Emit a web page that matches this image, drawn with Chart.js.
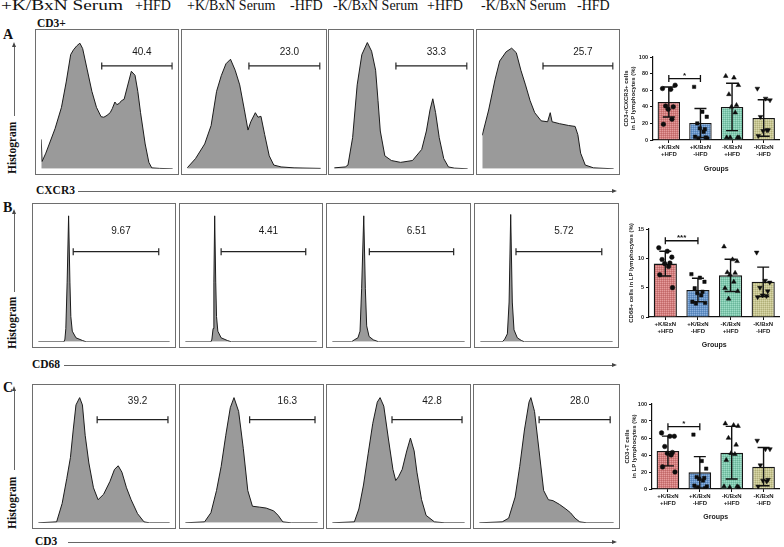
<!DOCTYPE html>
<html>
<head>
<meta charset="utf-8">
<script src="https://cdn.jsdelivr.net/npm/chart.js@4.4.0/dist/chart.umd.min.js"></script>
<style>
  body { margin: 0; background: #fff; width: 784px; height: 547px; position: relative; overflow: hidden; font-family: "Liberation Serif", serif; color: #111; }
  .t { position: absolute; white-space: pre; line-height: 1; }
  .hdr { font-size: 14px; }
  .lab { font-size: 11.5px; font-weight: bold; }
  .big { font-size: 14px; font-weight: bold; }
  .rot { transform: rotate(-90deg); transform-origin: 0 0; }
  .box { position: absolute; border: 1px solid #6e6e6e; box-sizing: border-box; }
  .box canvas { display: block; }
  .hl { position: absolute; height: 0; border-top: 1px solid #666; }
  .vl { position: absolute; width: 0; border-left: 1px solid #666; }
  .ar { position: absolute; width: 0; height: 0; }
  canvas.bar { position: absolute; }
</style>
</head>
<body>
<script>
// ---- flow histograms: [x, y] pairs, x = channel (0-100), y = % of max count
const HIST_A1 = [[0,22],[0.7,5.5],[3.5,11.7],[10.5,30],[15.4,46],[19,65],[22.4,85.5],[24.5,89],[27,92],[29.4,94],[31.5,90],[35,74],[38.5,58],[42,46],[45.5,39],[47.6,38.6],[50,40],[52.4,42],[54,45],[56,50],[57.5,48],[59.4,49],[61,51],[63,52],[66.4,65],[68.5,73],[71.3,70],[73.4,58],[75.5,42],[79,18.6],[81.8,4.8],[84,0.7],[90,0.3],[100,0]];
const HIST_A2 = [[0,0.7],[6.2,7.6],[13.1,18.6],[17.9,32.4],[22,58],[25.5,69.7],[29,78.6],[32.4,82],[35.9,73.8],[39.3,62.8],[42.8,44.1],[45.5,29],[47.6,35.2],[51,42],[53,38.6],[55.2,39.3],[58,25.5],[61.4,9.7],[64.8,2.8],[70.3,1.4],[80,0.7],[100,0.3]];
const HIST_A3 = [[0,0.7],[8.3,1.4],[10.3,2.8],[13.8,23.4],[17.2,62.8],[20.7,85.5],[24.8,94.5],[28,88],[31,73.8],[32.8,51],[34.5,28.3],[37.9,9.7],[42.8,6.2],[49.7,4.8],[58.6,6.2],[65.5,14.5],[69,28.3],[71.7,44],[73.8,52.4],[75.9,42],[78.6,23.4],[82,7.6],[85.5,1.4],[90,0.5],[100,0]];
const HIST_A4 = [[0,25],[4.9,44],[9.8,67],[13.3,80.7],[18.2,87.6],[22.4,90.3],[25.9,86.9],[29.4,73.8],[32.9,62.8],[36.4,51],[39.9,42],[44.8,35.9],[49.7,35.2],[51.7,42],[53.1,35.2],[58.7,33.8],[65.7,32.4],[70.6,31.7],[72.7,25.5],[74.8,11.7],[78.3,2.8],[84.6,0.7],[100,0]];
const HIST_B1 = [[0,0],[19.6,0],[20.3,2],[21,10],[22,45],[23.1,95],[24.1,45],[24.8,19],[25.9,8],[28.7,3],[33.6,1],[36.4,0],[100,0]];
const HIST_B2 = [[0,0],[19.6,0],[20.3,2],[21.2,10],[21.8,45],[22.4,95],[23.2,45],[23.8,19],[24.8,8],[27.3,3],[32,1],[35,0],[100,0]];
const HIST_B3 = [[0,0],[14.6,0],[16.7,1.5],[19.4,3],[21,8],[22.2,40],[23.8,95],[25,40],[26,12],[27.8,4],[31,1.5],[35,0],[100,0]];
const HIST_B4 = [[0,0],[16.7,0],[18.5,2],[20.5,6],[21.8,30],[23,96],[24.2,30],[25.5,9],[28,3],[31,1],[33.3,0],[100,0]];
const HIST_C1 = [[0,0],[14,0.7],[18.2,14.6],[21.7,33.3],[24.5,49.3],[26.6,70],[28.7,88.9],[31.5,94.4],[33.6,88.9],[35.7,66],[38.5,45.1],[42,26.4],[45.5,17.4],[49.7,21.5],[54.5,31.2],[58,40.3],[60.8,43],[63.6,38.2],[67.1,26.4],[70.6,17.4],[75.5,6.9],[80.4,0.7],[84.6,0],[100,0]];
const HIST_C2 = [[0,0],[14.6,0.7],[19.4,7.6],[23.6,24.3],[27.1,42.4],[30.6,66],[34,86.8],[36.8,94.4],[40.3,84],[43.8,56.2],[47.2,24.3],[50.7,12.5],[56.2,11.8],[61.1,11.1],[66.7,9],[70.1,5.6],[73.6,0.7],[80,0],[100,0]];
const HIST_C3 = [[0,0],[16.7,0.7],[20.1,10.4],[23.6,28.5],[27.1,52],[30.6,75],[34,91],[36.1,94.4],[38.9,88],[42.4,63.2],[45.8,40.3],[47.9,31.9],[50,34.7],[52.8,40.3],[56.2,54.2],[59,63.9],[61.8,54.2],[63.9,38.2],[67.4,17.4],[70.8,5.6],[77.1,0.7],[85,0],[100,0]];
const HIST_C4 = [[0,0],[17.1,0.7],[21.9,3.5],[26.7,19.4],[30.1,42.4],[33.6,70],[37,91],[38.4,94.4],[41.1,84],[44.5,54.2],[47.9,24.3],[51.4,17.4],[54.8,16.7],[59.6,13.9],[64.4,10.4],[67.8,7.6],[71.2,3.5],[74.7,0.7],[80,0],[100,0]];

// gates: [start, end] channel, gate height, % label
const GATES_A = [[46,99.5],[46.2,99.3],[46.2,99.3],[46.2,99.3]];
const GATES_B = [[26.6,91.6],[27.3,91.6],[28,91.6],[27,91.7]];
const GATES_C = [[44.8,98.6],[48.6,97.9],[45.1,97.9],[44.5,97.3]];
const GATE_Y = [77, 68, 77.8];
const PCT_A = ['40.4','23.0','33.3','25.7'];
const PCT_B = ['9.67','4.41','6.51','5.72'];
const PCT_C = ['39.2','16.3','42.8','28.0'];

// ---- summary bar charts
const GROUPS = [['+K/BxN','+HFD'],['+K/BxN','-HFD'],['-K/BxN','+HFD'],['-K/BxN','-HFD']];
const A_MEAN = [45.8, 20.5, 39.8, 26.5];
const A_SD = [18, 17.5, 28.5, 22];
const A_PTS = [[62,61,66,41,40,37,25,19],[64,34,28,20,13,14,10,4,2,2,3],[77,75,66,55,42,40,33,3,3,3,3],[62,50,48,28,12,11,12,5]];
const B_MEAN = [9.1, 4.6, 7.1, 6.0];
const B_SD = [2.1, 2.0, 2.75, 2.5];
const B_PTS = [[11.8,11.2,10.2,9.8,9.2,9.1,8.6,7.2,5.0],[7.3,6.7,6.0,4.9,4.3,4.1,3.7,2.6,2.4,2.3],[12,9.8,9.5,7.6,7.5,7.2,6.0,4.9,4.4,3.1],[11,6.2,5.9,5.0,4.4,3.7,3.6,3.4]];
const C_MEAN = [44.7, 19.6, 42.7, 26.3];
const C_SD = [17.5, 18.5, 31, 22.5];
const C_PTS = [[66,62,62,50,43,42,40,26,20],[64,33,24,14,13,12,10,4,3,2,1],[77,75,74,60,52,42,41,34,2,2,3,3],[57,47,47,28,11,10,9,3]];
const SIG_Y = [74, 13, 73.3];
const SIG_TXT = ['*', '***', '*'];

const BAR_COLORS = ['rgb(214,122,122)', 'rgb(100,148,204)', 'rgb(126,204,176)', 'rgb(200,198,142)'];
const JIT = [-0.2, 0.06, 0.2, -0.1, 0.14, -0.02, 0.1, -0.17, 0.22, -0.06, 0.17, -0.24];

Chart.defaults.animation = false;
Chart.defaults.font.family = '"Liberation Sans", Arial, sans-serif';

function el(cls, txt, css) {
  const d = document.createElement('div');
  d.className = cls;
  if (txt) d.textContent = txt;
  Object.assign(d.style, css);
  document.body.appendChild(d);
  return d;
}

// header row
el('t hdr', '+K/BxN Serum', {left: '1px', top: '-1px', transform: 'scaleX(1.38)', transformOrigin: '0 0'});
el('t hdr', '+HFD', {left: '135px', top: '-1px'});
el('t hdr', '+K/BxN Serum', {left: '187px', top: '-1px'});
el('t hdr', '-HFD', {left: '290px', top: '-1px'});
el('t hdr', '-K/BxN Serum', {left: '333px', top: '-1px'});
el('t hdr', '+HFD', {left: '427px', top: '-1px'});
el('t hdr', '-K/BxN Serum', {left: '481px', top: '-1px'});
el('t hdr', '-HFD', {left: '577px', top: '-1px'});

el('t lab', 'CD3+', {left: '37px', top: '18px'});

// row decorations: letter, vertical arrow, "Histogram", marker axis
const DECO = [
  {letter: 'A', ly: 28, a0: 42, a1: 116, hy: 174, mk: 'CXCR3', mx: 36, my: 191, l0: 78},
  {letter: 'B', ly: 201, a0: 209, a1: 292, hy: 349, mk: 'CD68', mx: 32, my: 365, l0: 64},
  {letter: 'C', ly: 381, a0: 386, a1: 470, hy: 529, mk: 'CD3', mx: 35, my: 542, l0: 68}
];
DECO.forEach(d => {
  el('t big', d.letter, {left: '3px', top: d.ly + 'px'});
  el('vl', '', {left: '14px', top: (d.a0 + 4) + 'px', height: (d.a1 - d.a0 - 4) + 'px'});
  el('ar', '', {left: '12px', top: d.a0 + 'px', borderLeft: '2.5px solid transparent', borderRight: '2.5px solid transparent', borderBottom: '5px solid #444'});
  el('t lab rot', 'Histogram', {left: '7px', top: d.hy + 'px'});
  el('t lab', d.mk, {left: d.mx + 'px', top: (d.my - 6) + 'px'});
  el('hl', '', {left: d.l0 + 'px', top: d.my + 'px', width: (612 - d.l0) + 'px'});
  el('ar', '', {left: '612px', top: (d.my - 2) + 'px', borderTop: '2.5px solid transparent', borderBottom: '2.5px solid transparent', borderLeft: '5px solid #444'});
});

// histogram boxes
const ROWS = [
  {top: 29, h: 146, boxes: [[35,144],[181,146],[328,146],[476,144]], hist: [HIST_A1,HIST_A2,HIST_A3,HIST_A4], gates: GATES_A, pct: PCT_A, lblUp: 14},
  {top: 203, h: 145, boxes: [[32,144],[179,144],[326,145],[474,145]], hist: [HIST_B1,HIST_B2,HIST_B3,HIST_B4], gates: GATES_B, pct: PCT_B, lblUp: 20},
  {top: 384, h: 145, boxes: [[32,144],[179,145],[326,145],[473,147]], hist: [HIST_C1,HIST_C2,HIST_C3,HIST_C4], gates: GATES_C, pct: PCT_C, lblUp: 18}
];

const gateLabel = {
  id: 'gateLabel',
  afterDatasetsDraw(chart, args, opts) {
    const {ctx, scales: {x, y}} = chart;
    const cx = (x.getPixelForValue(opts.g[0]) + x.getPixelForValue(opts.g[1])) / 2 + 5;
    const cy = y.getPixelForValue(opts.gy) - opts.up;
    ctx.save();
    ctx.fillStyle = '#1a1a1a';
    ctx.font = '10px "Liberation Sans", Arial, sans-serif';
    ctx.textAlign = 'center';
    ctx.textBaseline = 'middle';
    ctx.fillText(opts.text, cx, cy);
    ctx.restore();
  }
};

ROWS.forEach((row, r) => {
  row.boxes.forEach((b, i) => {
    const box = el('box', '', {left: b[0] + 'px', top: row.top + 'px', width: b[1] + 'px', height: row.h + 'px'});
    const cv = document.createElement('canvas');
    cv.width = b[1] - 2;
    cv.height = row.h - 2;
    box.appendChild(cv);
    const g = row.gates[i];
    new Chart(cv, {
      type: 'line',
      data: {
        datasets: [
          {data: [[g[0], GATE_Y[r]], [g[1], GATE_Y[r]]], borderColor: '#222', borderWidth: 1.2, fill: false,
           pointStyle: 'line', rotation: 90, pointRadius: 3.5, pointBorderWidth: 1.2, pointBorderColor: '#222'},
          {data: row.hist[i], borderColor: '#1c1c1c', borderWidth: 1, backgroundColor: '#9a9a9a',
           fill: 'origin', pointRadius: 0, tension: 0}
        ]
      },
      options: {
        responsive: false,
        devicePixelRatio: 1,
        layout: {padding: 0},
        scales: {
          x: {type: 'linear', min: 0, max: 100, display: false},
          y: {min: 0, max: 100, display: false}
        },
        plugins: {
          legend: {display: false},
          tooltip: {enabled: false},
          gateLabel: {g: g, gy: GATE_Y[r], up: row.lblUp, text: row.pct[i]}
        }
      },
      plugins: [gateLabel]
    });
  });
});

// ---- bar charts
function hatch(color) {
  const c = document.createElement('canvas');
  c.width = 2; c.height = 2;
  const g = c.getContext('2d');
  g.fillStyle = color; g.fillRect(0, 0, 2, 2);
  g.fillStyle = 'rgba(255,255,255,0.28)'; g.fillRect(0, 0, 1, 1);
  g.fillStyle = 'rgba(0,0,0,0.12)'; g.fillRect(1, 1, 1, 1);
  return g.createPattern(c, 'repeat');
}

const errBars = {
  id: 'errBars',
  afterDatasetsDraw(chart, args, opts) {
    const {ctx} = chart;
    const x = chart.scales.xp, y = chart.scales.y;
    ctx.save();
    ctx.strokeStyle = '#111';
    ctx.lineWidth = 1.4;
    opts.mean.forEach((m, i) => {
      const cx = x.getPixelForValue(i);
      const t = y.getPixelForValue(m + opts.sd[i]);
      const b = y.getPixelForValue(Math.max(0, m - opts.sd[i]));
      ctx.beginPath();
      ctx.moveTo(cx, t); ctx.lineTo(cx, b);
      ctx.moveTo(cx - 6, t); ctx.lineTo(cx + 6, t);
      ctx.moveTo(cx - 6, b); ctx.lineTo(cx + 6, b);
      ctx.stroke();
    });
    // significance bracket between groups 1 and 2
    const x0 = x.getPixelForValue(0), x1 = x.getPixelForValue(1);
    const by = y.getPixelForValue(opts.sig);
    ctx.lineWidth = 1.3;
    ctx.beginPath();
    ctx.moveTo(x0, by); ctx.lineTo(x1, by);
    ctx.moveTo(x0, by - 3.5); ctx.lineTo(x0, by + 3.5);
    ctx.moveTo(x1, by - 3.5); ctx.lineTo(x1, by + 3.5);
    ctx.stroke();
    ctx.fillStyle = '#111';
    ctx.font = 'bold 8px "Liberation Sans", Arial, sans-serif';
    ctx.textAlign = 'center';
    ctx.textBaseline = 'bottom';
    ctx.fillText(opts.star, (x0 + x1) / 2, by + 1);
    ctx.restore();
  }
};

const MARKS = [
  {style: 'circle', r: 2.3, rot: 0},
  {style: 'rect', r: 2.4, rot: 0},
  {style: 'triangle', r: 2.7, rot: 0},
  {style: 'triangle', r: 2.7, rot: 180}
];

function barChart(pos, mean, sd, pts, yMax, step, title, sig, star) {
  const cv = document.createElement('canvas');
  cv.className = 'bar';
  cv.width = pos.w; cv.height = pos.h;
  cv.style.left = pos.left + 'px';
  cv.style.top = pos.top + 'px';
  document.body.appendChild(cv);
  const datasets = [{
    type: 'bar', data: mean, xAxisID: 'x', yAxisID: 'y', order: 2, grouped: false,
    backgroundColor: BAR_COLORS.map(hatch), borderColor: '#151515', borderWidth: 1.3,
    barPercentage: 0.71, categoryPercentage: 1
  }];
  pts.forEach((vals, g) => {
    datasets.push({
      type: 'scatter', xAxisID: 'xp', yAxisID: 'y', order: 1,
      data: vals.map((v, k) => ({x: g + JIT[k % JIT.length], y: v})),
      pointStyle: MARKS[g].style, rotation: MARKS[g].rot, pointRadius: MARKS[g].r,
      backgroundColor: '#0d0d0d', borderColor: '#0d0d0d', borderWidth: 0.5
    });
  });
  new Chart(cv, {
    type: 'bar',
    data: {labels: GROUPS, datasets},
    options: {
      responsive: false,
      devicePixelRatio: 1,
      layout: {padding: {top: pos.pt, right: 2, left: 0, bottom: 0}},
      scales: {
        x: {
          type: 'category', offset: true,
          grid: {drawOnChartArea: false, offset: false, tickLength: 3, color: '#111', lineWidth: 1},
          border: {color: '#111', width: 1.2},
          ticks: {font: {size: 6, weight: 'bold'}, color: '#222', padding: 1, maxRotation: 0, autoSkip: false},
          title: {display: true, text: 'Groups', font: {size: 7, weight: 'bold'}, color: '#222', padding: {top: 2, bottom: 2}},
          afterFit: s => { s.height = pos.xh; }
        },
        xp: {type: 'linear', min: -0.5, max: 3.5, offset: false, display: false, grid: {offset: false}},
        y: {
          min: 0, max: yMax,
          grid: {drawOnChartArea: false, tickLength: 3, color: '#111', lineWidth: 1},
          border: {color: '#111', width: 1.2},
          ticks: {stepSize: step, font: {size: 5.5, weight: 'bold'}, color: '#222', padding: 2},
          title: {display: true, text: title, font: {size: 6, weight: 'bold'}, color: '#222', padding: {top: pos.tp, bottom: 0}},
          afterFit: s => { s.width = pos.yw; }
        }
      },
      plugins: {
        legend: {display: false},
        tooltip: {enabled: false},
        errBars: {mean, sd, sig, star}
      }
    },
    plugins: [errBars]
  });
}

barChart({left: 620, top: 50, w: 164, h: 125, pt: 7, xh: 35, yw: 33, tp: 3},
  A_MEAN, A_SD, A_PTS, 100, 20, ['CD3+/CXCR3+ cells', 'in LP lymphocytes (%)'], SIG_Y[0], SIG_TXT[0]);
barChart({left: 620, top: 220, w: 164, h: 131, pt: 9, xh: 34, yw: 29, tp: 8},
  B_MEAN, B_SD, B_PTS, 15, 5, 'CD68+ cells in LP lymphocytes (%)', SIG_Y[1], SIG_TXT[1]);
barChart({left: 620, top: 395, w: 164, h: 128, pt: 9, xh: 34, yw: 32, tp: 4},
  C_MEAN, C_SD, C_PTS, 100, 20, ['CD3+T cells', 'in LP lymphocytes (%)'], SIG_Y[2], SIG_TXT[2]);
</script>
</body>
</html>
